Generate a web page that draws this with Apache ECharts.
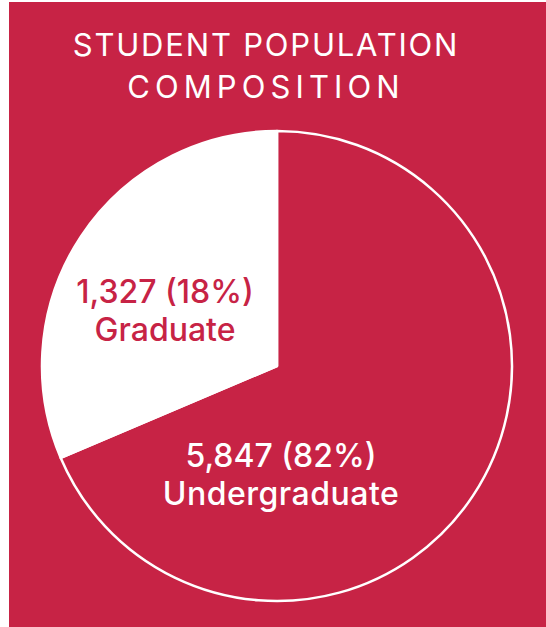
<!DOCTYPE html>
<html>
<head>
<meta charset="utf-8">
<script src="https://cdn.jsdelivr.net/npm/echarts@6/dist/echarts.min.js"></script>
<style>
  html, body { margin: 0; padding: 0; background: #ffffff; }
  #wrap { position: relative; width: 546px; height: 627px; background: #ffffff; }
  #chart { position: absolute; left: 9px; top: 2px; width: 537px; height: 625px; }
</style>
</head>
<body>
<div id="wrap"><div id="chart"></div></div>
<script>
// ---- data ----
const titleLines = ['STUDENT POPULATION', 'COMPOSITION'];
const categories = ['Undergraduate', 'Graduate'];
const countLabels = ['5,847', '1,327'];
const percentLabels = ['82%', '18%'];
// slice sizes as drawn in the reference (share of the circle, %)
const drawnShare = [68.6, 31.4];

const RED = '#C72345';
const WHITE = '#FFFFFF';
const sliceColors = [RED, WHITE];
const labelColors = [WHITE, RED];
// label block anchors (relative to chart div) and line heights
const labelPos = [[272, 472], [156, 308]];
const labelLineHeight = [38, 38];

const chart = echarts.init(document.getElementById('chart'), null, { renderer: 'svg' });

const graphics = [{
  type: 'text', id: 'title', x: 257, y: 63,
  style: {
    text: titleLines.join('\n'), fill: WHITE, font: '400 31px Inter',
    lineHeight: 42, textAlign: 'center', textVerticalAlign: 'middle'
  }, z: 10
}];
categories.forEach((c, i) => {
  graphics.push({
    type: 'text', x: labelPos[i][0], y: labelPos[i][1],
    style: {
      text: countLabels[i] + ' (' + percentLabels[i] + ')\n' + c,
      fill: labelColors[i], font: '500 32px Inter',
      lineHeight: labelLineHeight[i],
      textAlign: 'center', textVerticalAlign: 'middle'
    }, z: 10
  });
});

chart.setOption({
  backgroundColor: RED,
  animation: false,
  graphic: graphics,
  series: [{
    type: 'pie',
    center: [268, 364],
    radius: 235,
    startAngle: 90,
    clockwise: true,
    label: { show: false },
    labelLine: { show: false },
    emphasis: { disabled: true },
    data: categories.map((c, i) => ({
      name: c, value: drawnShare[i],
      itemStyle: { color: sliceColors[i], borderColor: WHITE, borderWidth: 2.5 }
    }))
  }]
});

function spaceText() {
  const spacing = { 'STUDENT POPULATION': '1.8px', 'COMPOSITION': '5.1px', 'Undergraduate': '0.5px' };
  document.querySelectorAll('#chart text, #chart tspan').forEach(el => {
    const t = el.textContent;
    if (spacing[t]) el.style.letterSpacing = spacing[t];
  });
}
chart.on('finished', spaceText);
spaceText();
</script>
</body>
</html>
